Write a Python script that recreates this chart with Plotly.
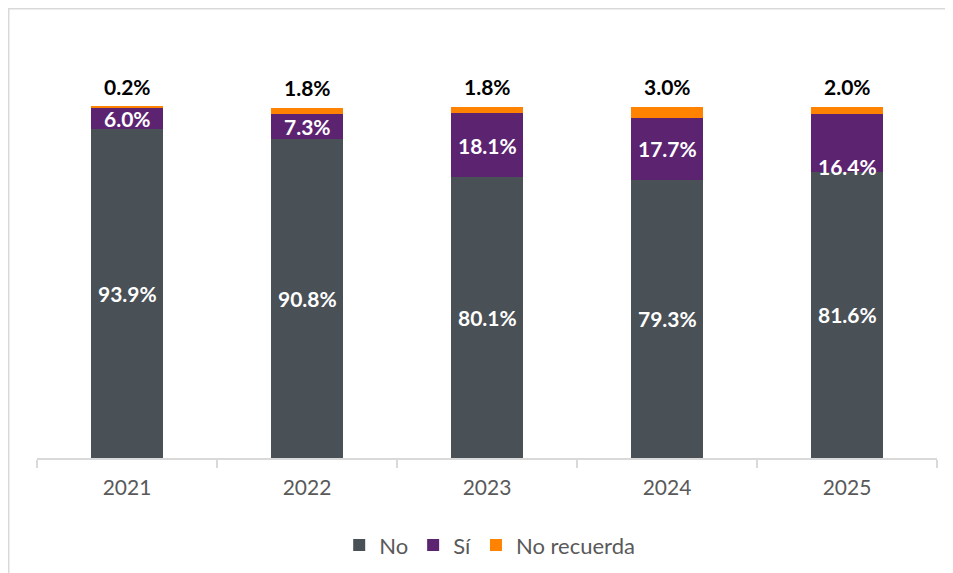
import plotly.graph_objects as go

years = ["2021", "2022", "2023", "2024", "2025"]
no_vals = [93.9, 90.8, 80.1, 79.3, 81.6]
si_vals = [6.0, 7.3, 18.1, 17.7, 16.4]
nr_vals = [0.2, 1.8, 1.8, 3.0, 2.0]

series_names = ["No", "Sí", "No recuerda"]
colors = ["#495056", "#5C2371", "#FF8300"]
si_label_shift = [0, 0, 0, 0, -24]  # label placement (px) as in the original

FONT = "Lato"

fig = go.Figure()
for name, vals, col in zip(series_names, [no_vals, si_vals, nr_vals], colors):
    fig.add_trace(go.Bar(x=years, y=vals, name=name, marker_color=col,
                         marker_line_width=0, hoverinfo="skip"))

annotations = []
for i, y in enumerate(years):
    # category axis: annotation x given as category index
    annotations.append(dict(x=i, y=no_vals[i] / 2, text=f"<b>{no_vals[i]:.1f}%</b>",
                            showarrow=False, font=dict(family=FONT, size=21, color="white"),
                            xref="x", yref="y"))
    annotations.append(dict(x=i, y=no_vals[i] + si_vals[i] / 2, text=f"<b>{si_vals[i]:.1f}%</b>",
                            showarrow=False, font=dict(family=FONT, size=21, color="white"),
                            xref="x", yref="y", yshift=si_label_shift[i]))
    total = no_vals[i] + si_vals[i] + nr_vals[i]
    annotations.append(dict(x=i, y=total, text=f"<b>{nr_vals[i]:.1f}%</b>",
                            showarrow=False, font=dict(family=FONT, size=21, color="black"),
                            xref="x", yref="y", yanchor="bottom", yshift=6))

fig.update_layout(
    barmode="stack",
    bargap=0.605,
    width=945, height=565,
    margin=dict(l=29, r=16, t=29, b=115, autoexpand=False),
    paper_bgcolor="white", plot_bgcolor="white",
    font=dict(family=FONT, color="#595959"),
    annotations=annotations,
    legend=dict(orientation="h", x=0.503, xanchor="center", y=-0.207, yanchor="middle",
                font=dict(family=FONT, size=22, color="#595959"), traceorder="normal"),
    showlegend=True,
    shapes=[dict(type="rect", xref="paper", yref="paper", x0=-0.0317, x1=1.05,
                 y0=-0.3, y1=1.0677, line=dict(color="#D9D9D9", width=2), layer="below")],
)
fig.update_xaxes(type="category", range=[-0.5, len(years) - 0.5], showline=True,
                 linecolor="#D9D9D9", linewidth=2,
                 ticks="outside", tickson="boundaries", ticklen=8, tickcolor="#D9D9D9",
                 tickwidth=2, tickfont=dict(family=FONT, size=21, color="#595959"),
                 ticklabelstandoff=10, showgrid=False, tickangle=0)
fig.update_yaxes(range=[0, 120], visible=False, showgrid=False)

fig.write_html("out.html")
